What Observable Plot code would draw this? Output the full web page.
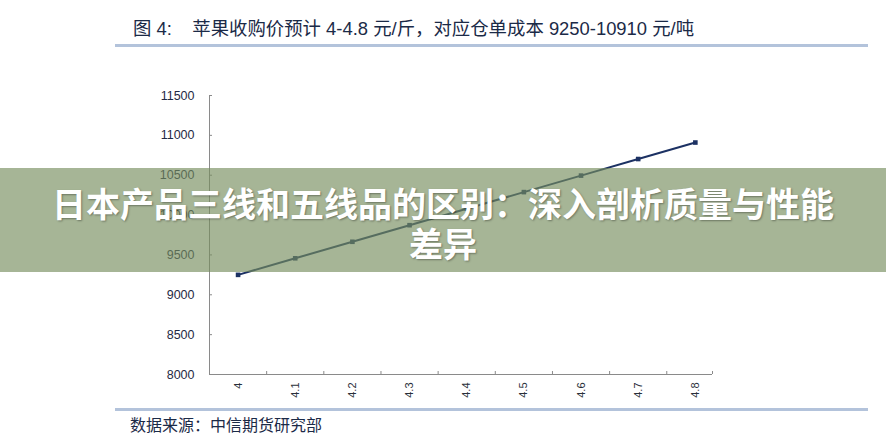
<!DOCTYPE html>
<html>
<head>
<meta charset="utf-8">
<script src="https://cdn.jsdelivr.net/npm/d3@7"></script>
<script src="https://cdn.jsdelivr.net/npm/@observablehq/plot@0.6"></script>
<style>
  html, body { margin: 0; padding: 0; background: #fff; }
  #wrap { position: relative; width: 886px; height: 443px; overflow: hidden; background: #fff;
          font-family: "Liberation Sans", "Noto Sans CJK SC", sans-serif; }
  #title { position: absolute; left: 133px; top: 17px; font-size: 18.4px; color: #1b2a47; white-space: pre; line-height: 24px; }
  .rule { position: absolute; left: 115px; width: 753px; height: 3px; background: #b3c3db; }
  #source { position: absolute; left: 130px; top: 413px; font-size: 16px; color: #1b2a47; line-height: 22px;
            font-family: "Noto Sans CJK SC", sans-serif; }
  #chart { position: absolute; left: 0; top: 60px; }
  #banner { position: absolute; left: 0; top: 168px; width: 886px; height: 104px; background: rgba(118,141,93,0.65);
            box-sizing: border-box; padding-top: 15px; text-align: center; color: #fff; font-weight: 700;
            font-size: 34px; line-height: 40px; font-family: "Noto Sans CJK SC", sans-serif;
            text-shadow: 1px 1px 2px rgba(0,0,0,0.35); }
</style>
</head>
<body>
<div id="wrap">
  <div id="title">图 4:    苹果收购价预计 4-4.8 元/斤，对应仓单成本 9250-10910 元/吨</div>
  <div class="rule" style="top:44px"></div>
  <div id="chart"></div>
  <div class="rule" style="top:408px"></div>
  <div id="source">数据来源：中信期货研究部</div>
  <div id="banner">日本产品三线和五线品的区别：深入剖析质量与性能<br>差异</div>
</div>
<script>
// Apple purchase price (元/斤) and corresponding warehouse receipt cost (元/吨)
const priceVals = [4, 4.1, 4.2, 4.3, 4.4, 4.5, 4.6, 4.7, 4.8];
const priceLabels = ["4", "4.1", "4.2", "4.3", "4.4", "4.5", "4.6", "4.7", "4.8"];
const costVals = [9250, 9458, 9665, 9873, 10080, 10288, 10495, 10703, 10910];
const yTicks = [8000, 8500, 9000, 9500, 10000, 10500, 11000, 11500];

const xDomain = [3.95, 4.83];
const yDomain = [8000, 11500];
const data = priceVals.map((p, i) => ({price: p, cost: costVals[i]}));
const xBounds = priceVals.slice(1).map(v => +(v - 0.05).toFixed(2)).concat([xDomain[1]]);

const axisGray = "#8a8a8a";
const navy = "#1c3163";

const chart = Plot.plot({
  width: 886,
  height: 360,
  marginTop: 35,
  marginBottom: 46,
  marginLeft: 209,
  marginRight: 174,
  style: {fontFamily: "Liberation Sans, Arial, sans-serif", fontSize: "12.5px", color: "#1f2a44", background: "transparent"},
  x: {domain: xDomain, axis: null},
  y: {domain: yDomain, axis: null},
  marks: [
    Plot.ruleX([xDomain[0]], {stroke: axisGray}),
    Plot.ruleY([yDomain[0]], {stroke: axisGray}),
    Plot.axisY(yTicks, {tickSize: 0, tickPadding: 15, fontSize: 12.5, fill: "#1f2a44", label: null,
      tickFormat: (d) => String(d)}),
    Plot.axisY(yTicks, {tickSize: -3, tickFormat: () => "", stroke: axisGray, label: null}),
    Plot.axisX(xBounds, {tickSize: -3, tickFormat: () => "", stroke: axisGray, label: null}),
    Plot.axisX(priceVals, {tickSize: 0, tickPadding: 8, tickRotate: -90, fontSize: 11, fill: "#2a2f3a", label: null,
      tickFormat: (d) => priceLabels[priceVals.indexOf(d)]}),
    Plot.line(data, {x: "price", y: "cost", stroke: navy, strokeWidth: 2}),
    Plot.dot(data, {x: "price", y: "cost", symbol: "square", r: 2.6, fill: navy, stroke: null})
  ]
});
document.getElementById("chart").appendChild(chart);
</script>
</body>
</html>
